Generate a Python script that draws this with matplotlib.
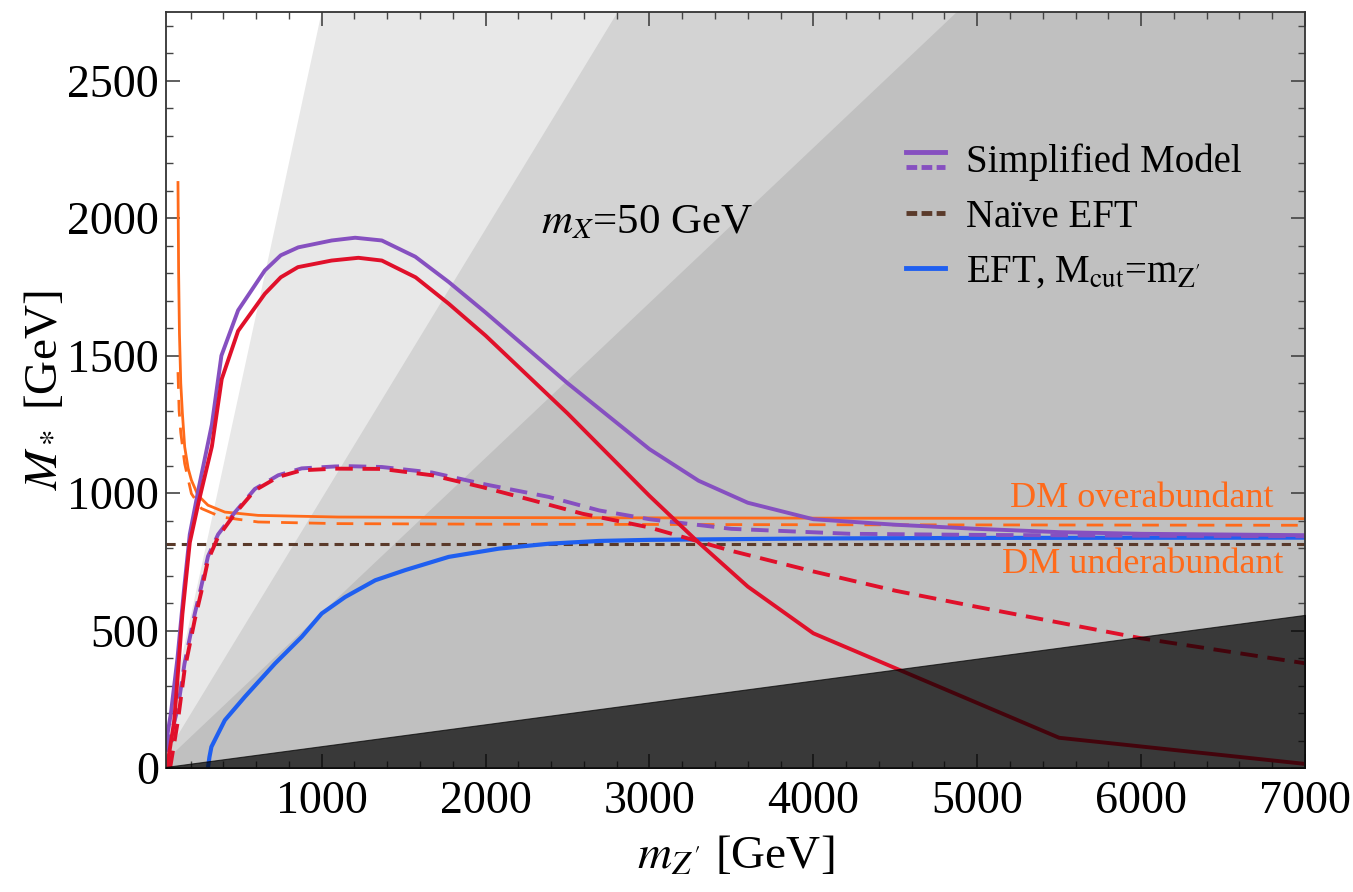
import numpy as np
import matplotlib
matplotlib.use("Agg")
from matplotlib import pyplot as plt
from matplotlib.lines import Line2D
from matplotlib.legend_handler import HandlerBase

plt.rcParams['font.family'] = ['Liberation Serif', 'DejaVu Serif']
plt.rcParams['mathtext.fontset'] = 'stix'

# shaded wedges: M* = slope * mZ'
wedge_slopes = [2.75, 0.98, 0.564]
wedge_colors = ['#e8e8e8', '#d3d3d3', '#c0c0c0']
strong_slope = 1 / (4 * np.pi)

# simplified model, solid (purple)
simp_x = [50, 80, 120, 160, 195, 250, 330, 388, 490, 653, 750, 857, 1061, 1204, 1367, 1571, 1775,
          2000, 2500, 3000, 3300, 3600, 4000, 4500, 5000, 5500, 6000, 7000]
simp_y = [90, 200, 400, 650, 850, 1020, 1250, 1500, 1665, 1810, 1865, 1894, 1919, 1929, 1919, 1860, 1768,
          1657, 1400, 1160, 1045, 965, 905, 885, 870, 858, 852, 847]

# simplified model, dashed (purple)
simpd_x = [50, 80, 123, 163, 225, 265, 306, 368, 470, 592, 735, 878, 1082, 1163, 1367, 1673,
           1979, 2387, 2693, 3000, 3500, 4223, 5000, 6000, 7000]
simpd_y = [60, 120, 220, 380, 560, 660, 770, 850, 930, 1015, 1065, 1090, 1097, 1098, 1095, 1075,
           1034, 986, 937, 905, 870, 852, 848, 845, 843]

# red solid
red_x = [55, 100, 150, 195, 250, 330, 390, 490, 653, 750, 855, 1060, 1224, 1367, 1573, 1775,
         2000, 2500, 3000, 3300, 3600, 4000, 5500, 7000]
red_y = [0, 170, 560, 820, 970, 1170, 1415, 1590, 1725, 1785, 1822, 1846, 1856, 1846, 1785, 1689,
         1573, 1290, 990, 820, 660, 490, 110, 15]

# red dashed
redd_x = [75, 123, 163, 225, 265, 306, 368, 470, 592, 735, 878, 1082, 1367, 1673, 1979,
          2285, 2591, 3000, 3500, 4000, 4500, 5000, 6000, 7000]
redd_y = [0, 174, 356, 538, 640, 756, 841, 925, 1010, 1059, 1083, 1089, 1088, 1065, 1022,
          974, 925, 875, 790, 715, 645, 586, 472, 381]

# EFT with Mcut = mZ' (blue)
eft_x = [306, 315, 327, 409, 531, 715, 878, 1000, 1143, 1327, 1510, 1775, 2081, 2387, 2693,
         3000, 4000, 5000, 7000]
eft_y = [0, 40, 77, 174, 259, 380, 477, 562, 622, 683, 720, 768, 798, 816, 826,
         830, 835, 837, 838]

# naive EFT (brown dashed)
naive_x = [50, 7000]
naive_y = [815, 815]

# relic abundance (orange)
relic_x = [123, 127, 132, 140, 150, 164, 185, 205, 245, 306, 409, 612, 1101, 2000, 4000, 7000]
relic_y = [2130, 1800, 1580, 1400, 1290, 1168, 1090, 1047, 992, 956, 931, 919, 913, 911, 909, 907]
relicd_x = [123, 130, 140, 164, 205, 266, 388, 612, 1101, 2000, 4000, 7000]
relicd_y = [1440, 1300, 1220, 1107, 998, 944, 913, 895, 889, 887, 885, 883]

purple = '#8650c0'
red = '#e0102a'
orange = '#ff6a1a'
brown = '#5a3a2a'
blue = '#1f5ff0'


class StackedHandler(HandlerBase):
    def create_artists(self, legend, orig_handle, xdescent, ydescent, width, height, fontsize, trans):
        c = orig_handle.get_color()
        top = Line2D([-xdescent, width - xdescent], [0.75 * height] * 2, color=c, lw=3.5,
                     transform=trans)
        bot = Line2D([-xdescent, width - xdescent], [0.2 * height] * 2, color=c, lw=3.5,
                     ls=(0, (2.2, 0.9)), transform=trans)
        return [top, bot]


fig = plt.figure(figsize=(13.53, 8.92), dpi=100)
ax = fig.add_axes([0.1227, 0.139, 0.8418, 0.8475])

xs = np.array([0, 7000])
for s, c in zip(wedge_slopes, wedge_colors):
    ax.fill_between(xs, 0, s * xs, color=c, lw=0, zorder=0)

ax.plot(relic_x, relic_y, color=orange, lw=2.0, zorder=2)
ax.plot(relicd_x, relicd_y, color=orange, lw=2.0, ls=(0, (6, 4)), zorder=2)
ax.plot(naive_x, naive_y, color=brown, lw=2.2, ls=(0, (3, 2)), zorder=2)
ax.plot(eft_x, eft_y, color=blue, lw=3.0, zorder=2)
ax.plot(simp_x, simp_y, color=purple, lw=2.8, zorder=2)
ax.plot(simpd_x, simpd_y, color=purple, lw=2.8, ls=(0, (4.5, 2.5)), zorder=2)
ax.plot(red_x, red_y, color=red, lw=2.8, zorder=2)
ax.plot(redd_x, redd_y, color=red, lw=2.8, ls=(0, (4.5, 2.5)), zorder=2)

ax.fill_between(xs, 0, strong_slope * xs, color='black', alpha=0.7, lw=0.8, zorder=3)

ax.set_xlim(50, 7000)
ax.set_ylim(0, 2750)
ax.set_xticks(range(1000, 7001, 1000))
ax.set_xticks(range(200, 7001, 200), minor=True)
ax.set_yticks(range(0, 2501, 500))
ax.set_yticks(range(0, 2751, 100), minor=True)
ax.tick_params(which='both', direction='in', top=True, right=True, color='#444444', labelsize=33)
ax.tick_params(which='major', length=10, width=1.2)
ax.tick_params(which='minor', length=5, width=1.0)
ax.tick_params(axis='x', which='major', pad=9)
ax.tick_params(axis='y', which='major', pad=5)
for sp in ax.spines.values():
    sp.set_color('#333333')
    sp.set_linewidth(1.3)

ax.set_xlabel(r"$m_{Z'}$ [GeV]", fontsize=34, labelpad=9)
ax.set_ylabel(r"$M_*$ [GeV]", fontsize=34, labelpad=0)

ax.text(2987, 1984, r"$m_X$=50 GeV", fontsize=31, ha='center', va='center', zorder=4)
ax.text(6805, 982, "DM overabundant", color=orange, fontsize=26, ha='right', va='center', zorder=4)
ax.text(6867, 742, "DM underabundant", color=orange, fontsize=26, ha='right', va='center', zorder=4)

h_simp = Line2D([], [], color=purple)
h_naive = Line2D([], [], color=brown, lw=3.5, ls=(0, (2.2, 0.9)))
h_eft = Line2D([], [], color=blue, lw=3.5)
ax.legend([h_simp, h_naive, h_eft],
          ["Simplified Model", "Naïve EFT", r"EFT, M$_{\rm cut}$=m$_{\rm Z'}$"],
          handler_map={h_simp: StackedHandler()},
          loc='upper left', bbox_to_anchor=(0.619, 0.872), frameon=False, fontsize=28,
          handlelength=1.0, handletextpad=0.55, labelspacing=0.45)

fig.savefig("out.png", dpi=100)
